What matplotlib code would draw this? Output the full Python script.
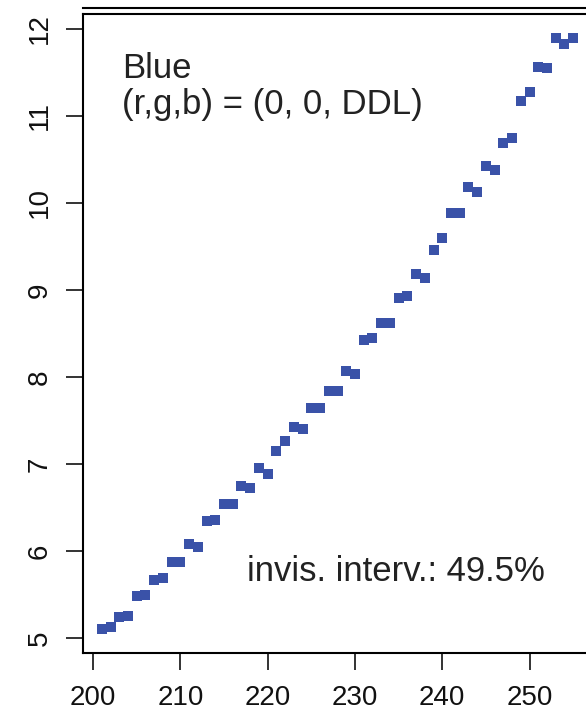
import matplotlib
matplotlib.use("Agg")
import matplotlib.pyplot as plt
from matplotlib.lines import Line2D

plt.rcParams['font.family'] = ['Liberation Sans', 'DejaVu Sans']

# stimulus level vs. response (blue channel)
level = list(range(201, 256))
response = [
    5.10, 5.13, 5.24, 5.25, 5.48, 5.50, 5.67, 5.69, 5.87, 5.87,
    6.08, 6.05, 6.35, 6.36, 6.54, 6.54, 6.75, 6.72, 6.95, 6.89,
    7.15, 7.26, 7.43, 7.40, 7.64, 7.64, 7.84, 7.84, 8.07, 8.04,
    8.43, 8.45, 8.62, 8.62, 8.91, 8.93, 9.18, 9.14, 9.46, 9.60,
    9.88, 9.88, 10.18, 10.13, 10.42, 10.38, 10.69, 10.75, 11.17, 11.28,
    11.56, 11.55, 11.90, 11.83, 11.90,
]
xticks = [200, 210, 220, 230, 240, 250]
yticks = [5, 6, 7, 8, 9, 10, 11, 12]

W, H = 586, 717
f = plt.figure(figsize=(W / 100, H / 100), dpi=100)
ax = f.add_axes([83 / W, (H - 653) / H, (592 - 83) / W, (653 - 14) / H])

ax.plot(level, response, 's', color='#3a52a8', markersize=6.5, markeredgewidth=0)

# R-style 4% padding
xr = max(level) - min(level)
yr = max(response) - min(response)
ax.set_xlim(min(level) - 0.04 * xr, max(level) + 0.04 * xr)
ax.set_ylim(min(response) - 0.04 * yr, max(response) + 0.04 * yr)

ax.set_xticks(xticks)
ax.set_yticks(yticks)
ax.tick_params(axis='both', length=12, width=1.2, labelsize=20, colors='#111111')
ax.tick_params(axis='x', pad=11)
ax.tick_params(axis='y', pad=10)
for lab in ax.get_yticklabels():
    lab.set_rotation(90)
    lab.set_va('center')
for s in ax.spines.values():
    s.set_linewidth(1.5)

txt = dict(transform=ax.transAxes, fontsize=25, color='#222222', va='center', ha='left')
ax.text(0.077, 0.915, "Blue", **txt)
ax.text(0.077, 0.858, "(r,g,b) = (0, 0, DDL)", **txt)
ax.text(0.322, 0.127, "invis. interv.: 49.5%", **txt)

f.add_artist(Line2D([83 / W, 1], [(H - 8) / H] * 2, transform=f.transFigure,
                    color='black', linewidth=1.5))

f.savefig("out.png", dpi=100)
plt.close()
